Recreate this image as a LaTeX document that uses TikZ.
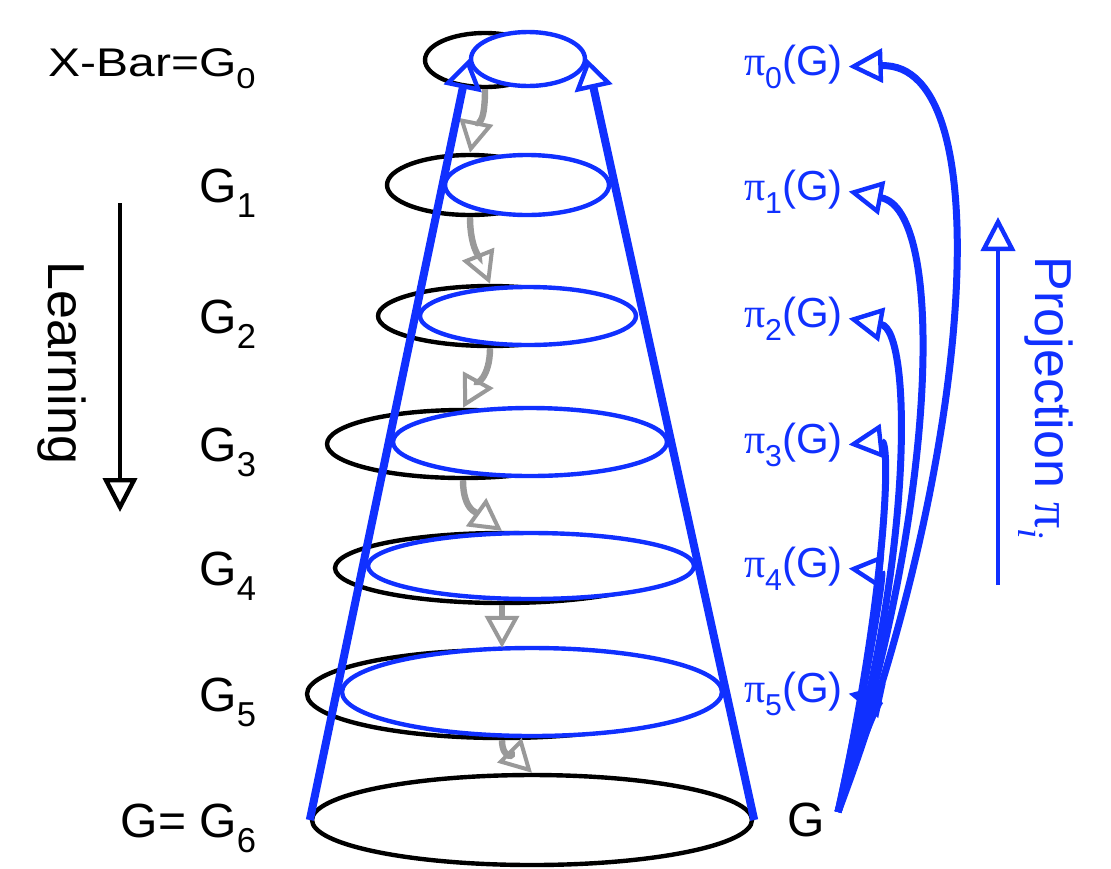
\documentclass[tikz,border=0pt]{standalone}
\usepackage{fontspec}
\setmainfont{Liberation Sans}
\newfontfamily\pifont{Liberation Serif}
\usetikzlibrary{arrows.meta, shapes.geometric}
\definecolor{cblue}{HTML}{1030FF}
\definecolor{cgrey}{HTML}{999999}
\newcommand{\lowsub}[1]{\raisebox{-0.32em}{\scalebox{0.72}{#1}}}
\tikzset{
  every picture/.style={line width=2pt},
  ring/.style={ellipse, draw=#1, inner sep=0pt, line width=2.2pt},
  ring/.default=black,
  coneline/.style={draw=cblue, line width=4pt, -{Triangle[open, length=15pt, width=19pt, line width=2.2pt]}},
  stepline/.style={draw=cgrey, line width=3.2pt, -{Triangle[open, length=16pt, width=17pt, line width=2pt]}},
  projline/.style={draw=cblue, line width=3.5pt, -{Triangle[open, length=17pt, width=17pt, line width=2.2pt]}},
  bigarrow/.style={draw=#1, line width=2.4pt, -{Triangle[open, length=17pt, width=17pt, line width=2.2pt]}},
}

\begin{document}
\begin{tikzpicture}[x=0.5pt, y=-0.5pt,
  glab/.style={font=\fontsize{24}{28}\selectfont, anchor=base east, inner sep=0pt},
  plab/.style={font=\fontsize{21}{25}\selectfont, text=cblue, anchor=base west, inner ysep=0pt, inner xsep=2pt},
  side/.style={font=\fontsize{26}{30}\selectfont, rotate=-90}]
  \useasboundingbox (0,0) rectangle (1111,868);
  % ---------- black rings: G_0 ... G_6 ----------
  \foreach \cx/\cy/\rx/\ry [count=\i from 0] in {485/60/60/27, 470/185/83/30, 490/316/112/30,
                                                 463/444/136/34, 502/568/167/35, 502/694/195/44, 532/820/220/45}
    \node[ring, minimum width=\rx pt, minimum height=\ry pt] (k\i) at (\cx,\cy) {};
  % ---------- blue rings: projections of G ----------
  \foreach \cx/\cy/\rx/\ry [count=\i from 0] in {528/59/57/27, 527/185/82/30, 528/316/108/29,
                                                 530/442/137/34, 531/566/163/33, 532/692/190/44}
    \node[ring=cblue, fill=white, minimum width=\rx pt, minimum height=\ry pt] (p\i) at (\cx,\cy) {};
  % ---------- learning steps ----------
  \draw[stepline] (k0.south) .. controls +(0,40) and +(6,-30) .. (k1.north);
  \draw[stepline] (k1.south) .. controls +(0,30) and +(-10,-25) .. (k2.north);
  \draw[stepline] (k2.south) .. controls +(0,30) and +(12,-22) .. (k3.north);
  \draw[stepline] (k3.south) .. controls +(0,30) and +(-25,-18) .. (k4.north);
  \draw[stepline] (k4.south) -- (k5.north);
  \draw[stepline] (k5.south) .. controls +(0,20) and +(-15,-15) .. (k6.north);
  % ---------- cone ----------
  \draw[coneline] (k6.west) -- (p0.west);
  \draw[coneline] (k6.east) -- (p0.east);
  % ---------- labels ----------
  \node[glab, xscale=1.2, font=\fontsize{20}{24}\selectfont] (l0) at (258,76) {X-Bar=G\lowsub{0}};
  \foreach \i/\y in {1/202, 2/333, 3/461, 4/585, 5/711}
    \node[glab] (l\i) at (258,\y) {G\lowsub{\i}};
  \node[glab] (l6) at (258,837) {G= G\lowsub{6}};
  \foreach \i/\y in {0/75, 1/200, 2/327, 3/453, 4/577, 5/702}
    \node[plab] (q\i) at (738,\y) {{\pifont π}\lowsub{\i}(G)};
  \node[glab, anchor=base west] (g) at (785,836) {G};
  % ---------- projections ----------
  \coordinate (src) at (838,812);
  \foreach \i/\ax/\ay/\bx/\by in {0/975/450/1000/62, 1/940/500/945/210, 2/915/560/912/330,
                                   3/885/600/892/440, 4/865/690/885/572, 5/850/770/878/700}
    \draw[projline] (src) .. controls (\ax,\ay) and (\bx,\by) .. (q\i.east);
  % ---------- side arrows ----------
  \coordinate (lrn0) at (120,203);
  \coordinate (lrn1) at (120,512);
  \draw[bigarrow=black] (lrn0) -- (lrn1);
  \node[side] (lrn) at (62,363) {Learning};
  \coordinate (prj0) at (998,585);
  \coordinate (prj1) at (998,217);
  \draw[bigarrow=cblue] (prj0) -- (prj1);
  \node[side, text=cblue] (prj) at (1046,398) {Projection {\pifont π\lowsub{\textit{i}}}};
\end{tikzpicture}
\end{document}
